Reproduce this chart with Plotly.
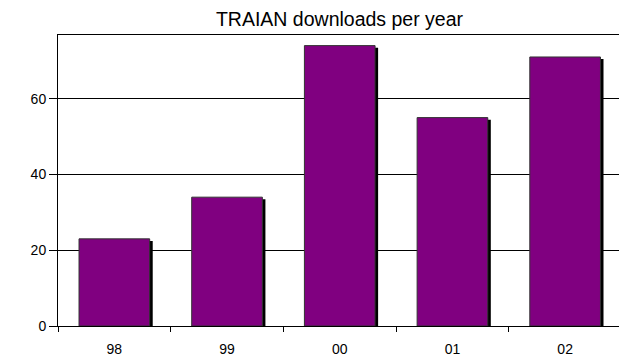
import plotly.graph_objects as go

years = ["98", "99", "00", "01", "02"]
downloads = [23, 34, 74, 55, 71]
y_ticks = [0, 20, 40, 60]

BAR_W = 0.627
SHADOW_DX = 0.027
SHADOW_DY = 0.55

fig = go.Figure()
# shadow
fig.add_trace(go.Bar(
    x=years, y=[v - SHADOW_DY for v in downloads],
    width=BAR_W, offset=-BAR_W / 2 + SHADOW_DX,
    marker=dict(color="black", line=dict(width=0)),
    hoverinfo="skip", showlegend=False,
))
# main bars
fig.add_trace(go.Bar(
    x=years, y=downloads,
    width=BAR_W, offset=-BAR_W / 2,
    marker=dict(color="#800080", line=dict(color="#333333", width=1)),
    showlegend=False,
))

fig.update_layout(
    width=619, height=357,
    margin=dict(l=58, r=0, t=35, b=31),
    paper_bgcolor="white", plot_bgcolor="white",
    barmode="overlay",
    font=dict(family="Liberation Sans, Arial, sans-serif", size=14, color="black"),
    title=dict(
        text="TRAIAN downloads per year",
        font=dict(size=19.5, color="black"),
        x=(58 + 621) / 2 / 619, xanchor="center", xref="container",
        y=1 - 19 / 357, yanchor="middle", yref="container",
    ),
    xaxis=dict(
        type="category", categoryorder="array", categoryarray=years,
        range=[-0.5, 4.478],
        showline=True, linecolor="black", linewidth=1, mirror=True,
        ticks="outside", ticklen=5, tickcolor="black", tickson="boundaries",
        showgrid=False, ticklabelstandoff=10, automargin=False,
    ),
    yaxis=dict(
        range=[0, 76.8],
        tickvals=y_ticks,
        showline=True, linecolor="black", linewidth=1,
        ticks="outside", ticklen=8, tickcolor="black",
        showgrid=True, gridcolor="black", gridwidth=1,
        zeroline=False, automargin=False,
    ),
)

fig.write_html("out.html")
